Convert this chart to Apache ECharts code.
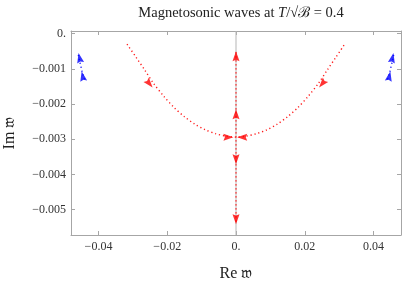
<!DOCTYPE html>
<html>
<head>
<meta charset="utf-8">
<script src="https://cdn.jsdelivr.net/npm/echarts@6/dist/echarts.min.js"></script>
<style>html,body{margin:0;padding:0;background:#fff}#c{width:407px;height:284px}</style>
</head>
<body>
<div id="c"></div>
<script>
// Tick values and labels
const xTicks = [-0.04, -0.02, 0, 0.02, 0.04];
const xTickLabels = ["\u22120.04", "\u22120.02", "0.", "0.02", "0.04"];
const yTicks = [0, -0.001, -0.002, -0.003, -0.004, -0.005];
const yTickLabels = ["0.", "\u22120.001", "\u22120.002", "\u22120.003", "\u22120.004", "\u22120.005"];

// Red branch: the two colliding modes (Re w, Im w)
const redCurveX = [-0.0317, -0.029, -0.0265, -0.024, -0.021, -0.018, -0.015, -0.012, -0.009, -0.006, -0.003, 0,
                   0.003, 0.006, 0.009, 0.012, 0.015, 0.018, 0.021, 0.024, 0.0265, 0.029, 0.0316];
const redCurveY = [-0.0003, -0.00068, -0.00104, -0.00141, -0.00178, -0.0021, -0.00236, -0.00257, -0.00273, -0.00284, -0.00291, -0.00294,
                   -0.00291, -0.00284, -0.00273, -0.00257, -0.00236, -0.0021, -0.00178, -0.00141, -0.00104, -0.00068, -0.0003];
// Red branch after collision: purely imaginary modes
const redAxisX = [0, 0];
const redAxisY = [-0.00053, -0.0054];

// Blue branches (Re w, Im w)
const blueLeftX = [-0.0441, -0.0447, -0.0452, -0.0457, -0.0459];
const blueLeftY = [-0.0013, -0.0011, -0.0009, -0.0007, -0.00058];
const blueRightX = [0.0441, 0.0447, 0.0452, 0.0457, 0.0459];
const blueRightY = [-0.0013, -0.0011, -0.0009, -0.0007, -0.00058];

// Arrowheads: position and heading (degrees, counter-clockwise from up)
const redArrowX = [-0.0252, 0.0251, -0.0022, 0.0018, 0, 0, 0, 0];
const redArrowY = [-0.00142, -0.00142, -0.00294, -0.00294, -0.00064, -0.00229, -0.00357, -0.00527];
const redArrowHeading = [-140, 140, -90, 90, 0, 0, 180, 180];
const blueArrowX = [-0.0455, -0.0446, 0.0455, 0.0446];
const blueArrowY = [-0.00069, -0.00121, -0.00069, -0.00121];
const blueArrowHeading = [12, 12, -12, -12];

const zip = (a, b) => a.map((v, i) => [v, b[i]]);
const zip3 = (a, b, c) => a.map((v, i) => [v, b[i], c[i]]);

const X_MIN = -0.048, X_MAX = 0.048, Y_MIN = -0.00572, Y_MAX = 0.000075;
const frame = '#a6a6a6';
const serif = '"Liberation Serif", "DejaVu Serif", serif';
const arrowPath = 'path://M5,0 L10,14 L5,12 L0,14 Z';

const fmtX = v => { const i = xTicks.findIndex(t => Math.abs(t - v) < 1e-9); return i >= 0 ? xTickLabels[i] : ''; };
const fmtY = v => { const i = yTicks.findIndex(t => Math.abs(t - v) < 1e-9); return i >= 0 ? yTickLabels[i] : ''; };

const axisCommon = {
  axisLine: { show: true, onZero: false, lineStyle: { color: frame, width: 1 } },
  splitLine: { show: false },
};

const chart = echarts.init(document.getElementById('c'), null, { renderer: 'canvas' });
chart.setOption({
  animation: false,
  backgroundColor: '#fff',
  title: {
    text: 'Magnetosonic waves at {i|T}/\u221A\u212C = 0.4',
    left: 236, top: 1, textAlign: 'center',
    textStyle: { fontFamily: serif, fontSize: 14.5, fontWeight: 'normal', color: '#222',
      rich: { i: { fontFamily: serif, fontStyle: 'italic', fontSize: 14.5, color: '#222' } } }
  },
  grid: { left: 71, right: 6, top: 31, bottom: 49, outerBoundsMode: 'none', containLabel: false },
  xAxis: [
    Object.assign({
      type: 'value', min: X_MIN, max: X_MAX, position: 'bottom',
      name: 'Re \uD835\uDD34', nameLocation: 'middle', nameGap: 31,
      nameTextStyle: { fontFamily: serif, fontSize: 16, color: '#222' },
      axisTick: { show: true, inside: true, length: 4, lineStyle: { color: frame }, customValues: xTicks },
      axisLabel: { customValues: xTicks, formatter: fmtX, fontFamily: serif, fontSize: 12, color: '#333', margin: 6 },
    }, axisCommon),
    Object.assign({
      type: 'value', min: X_MIN, max: X_MAX, position: 'top',
      axisTick: { show: true, inside: true, length: 4, lineStyle: { color: frame }, customValues: xTicks },
      axisLabel: { show: false },
    }, axisCommon)
  ],
  yAxis: [
    Object.assign({
      type: 'value', min: Y_MIN, max: Y_MAX, position: 'left',
      name: 'Im \uD835\uDD34', nameLocation: 'middle', nameGap: 53, nameRotate: 90,
      nameTextStyle: { fontFamily: serif, fontSize: 16, color: '#222' },
      axisTick: { show: true, inside: true, length: 4, lineStyle: { color: frame }, customValues: yTicks },
      axisLabel: { customValues: yTicks, formatter: fmtY, fontFamily: serif, fontSize: 12, color: '#333', margin: 5 },
    }, axisCommon),
    Object.assign({
      type: 'value', min: Y_MIN, max: Y_MAX, position: 'right',
      axisTick: { show: true, inside: true, length: 4, lineStyle: { color: frame }, customValues: yTicks },
      axisLabel: { show: false },
    }, axisCommon)
  ],
  series: [
    { type: 'line', data: [[0, Y_MAX], [0, Y_MIN]], symbol: 'none', silent: true, z: 1,
      lineStyle: { color: '#b5b5b5', width: 1 } },
    { type: 'line', data: zip(redCurveX, redCurveY), symbol: 'none', smooth: 0.3, z: 3,
      lineStyle: { color: '#ff1a1a', width: 1.4, type: [1.2, 2.8] } },
    { type: 'line', data: zip(redAxisX, redAxisY), symbol: 'none', z: 3,
      lineStyle: { color: '#ff1a1a', width: 1.4, type: [1.2, 2.8] } },
    { type: 'line', data: zip(blueLeftX, blueLeftY), symbol: 'none', z: 3,
      lineStyle: { color: '#1a1aff', width: 1.4, type: [1.2, 2.8] } },
    { type: 'line', data: zip(blueRightX, blueRightY), symbol: 'none', z: 3,
      lineStyle: { color: '#1a1aff', width: 1.4, type: [1.2, 2.8] } },
    { type: 'scatter', data: zip3(redArrowX, redArrowY, redArrowHeading), symbol: arrowPath,
      symbolSize: [7, 10], symbolRotate: (v) => v[2], z: 4, itemStyle: { color: '#ff0000' } },
    { type: 'scatter', data: zip3(blueArrowX, blueArrowY, blueArrowHeading), symbol: arrowPath,
      symbolSize: [7, 10], symbolRotate: (v) => v[2], z: 4, itemStyle: { color: '#0000ff' } },
  ]
});
</script>
</body>
</html>
